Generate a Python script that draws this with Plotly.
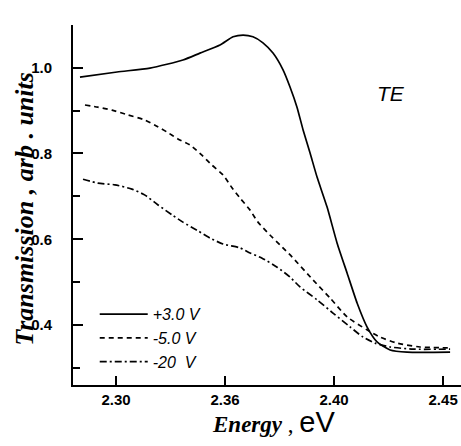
import plotly.graph_objects as go

energy_p3 = [2.2835, 2.3005, 2.3156, 2.3307, 2.3385, 2.3477, 2.3537, 2.3583, 2.3628, 2.3674,
             2.3720, 2.3766, 2.3798, 2.3830, 2.3858, 2.3890, 2.3922, 2.3968, 2.4014, 2.4060,
             2.4106, 2.4151, 2.4197, 2.4257, 2.4335, 2.4532]
trans_p3 = [0.978, 0.990, 0.999, 1.018, 1.034, 1.053, 1.072, 1.076, 1.072, 1.058,
            1.034, 0.995, 0.955, 0.908, 0.855, 0.801, 0.745, 0.675, 0.591, 0.521,
            0.451, 0.396, 0.361, 0.342, 0.337, 0.337]

energy_m5 = [2.2858, 2.2917, 2.2982, 2.3055, 2.3133, 2.3179, 2.3234, 2.3284, 2.3339, 2.3394,
             2.3440, 2.3491, 2.3532, 2.3569, 2.3615, 2.3651, 2.3706, 2.3752, 2.3807, 2.3904,
             2.3982, 2.4060, 2.4151, 2.4211, 2.4289, 2.4394, 2.4532]
trans_m5 = [0.913, 0.908, 0.901, 0.890, 0.878, 0.866, 0.850, 0.834, 0.820, 0.796,
            0.773, 0.750, 0.720, 0.696, 0.668, 0.640, 0.610, 0.587, 0.559, 0.505,
            0.463, 0.419, 0.389, 0.372, 0.358, 0.349, 0.347]

energy_m20 = [2.2849, 2.2917, 2.2995, 2.3073, 2.3133, 2.3193, 2.3257, 2.3307, 2.3372, 2.3431,
              2.3491, 2.3569, 2.3615, 2.3670, 2.3739, 2.3798, 2.3844, 2.3922, 2.3995, 2.4073,
              2.4133, 2.4188, 2.4257, 2.4362, 2.4532]
trans_m20 = [0.740, 0.731, 0.727, 0.717, 0.703, 0.680, 0.657, 0.640, 0.621, 0.603,
             0.589, 0.580, 0.568, 0.556, 0.535, 0.512, 0.489, 0.459, 0.428, 0.396,
             0.372, 0.358, 0.349, 0.344, 0.344]

series_names = ["+3.0 V", "-5.0 V", "-20  V"]
x_tickvals = [2.30, 2.35, 2.40, 2.45]
x_ticktext = ["2.30", "2.36", "2.40", "2.45"]
y_tickvals = [0.4, 0.6, 0.8, 1.0]
y_ticktext = ["0.4", "0.6", "0.8", "1.0"]
y_minor = [0.3, 0.5, 0.7, 0.9]

fig = go.Figure()
styles = ["solid", "5px,4px", "7px,3px,2px,3px"]
for xs, ys, name, dash in zip([energy_p3, energy_m5, energy_m20],
                              [trans_p3, trans_m5, trans_m20], series_names, styles):
    fig.add_trace(go.Scatter(x=xs, y=ys, mode="lines", name=name,
                             line=dict(color="black", width=1.7, dash=dash, shape="spline", smoothing=0.6)))

fig.add_annotation(x=2.4261, y=0.941, text="<i>TE</i>", showarrow=False,
                   font=dict(family="Liberation Sans, Arial", size=21, color="black"))

title_font = dict(family="Liberation Serif, Times New Roman", size=26, color="black")
fig.add_annotation(xref="paper", yref="paper", x=-0.126, y=0.49, textangle=-90,
                   text="<b><i>Transmission , arb . units</i></b>", showarrow=False,
                   font=title_font, xanchor="center", yanchor="middle")
fig.add_annotation(xref="paper", yref="paper", x=0.518, y=-0.103,
                   text="<b><i>Energy</i></b> , <span style='font-family:Liberation Sans, Arial;font-size:29px'>eV</span>",
                   showarrow=False, font=dict(family="Liberation Serif, Times New Roman", size=23, color="black"),
                   xanchor="center", yanchor="middle")

tick_font = dict(family="Liberation Sans, Arial", size=15, color="black", weight="bold")
fig.update_layout(
    width=461, height=446,
    margin=dict(l=73, r=0, t=25, b=61),
    paper_bgcolor="white", plot_bgcolor="white",
    showlegend=True,
    legend=dict(x=0.056, y=0.244, xanchor="left", yanchor="top",
                bgcolor="rgba(0,0,0,0)", tracegroupgap=0, itemwidth=48,
                font=dict(family="Liberation Sans, Arial", size=16, color="black", style="italic")),
    xaxis=dict(range=[2.2803, 2.4582], tickvals=x_tickvals, ticktext=x_ticktext,
               ticks="inside", ticklen=9, tickwidth=1.5, tickcolor="black",
               showline=True, linecolor="black", linewidth=2, showgrid=False, zeroline=False,
               tickfont=tick_font, ticklabelstandoff=0, automargin=False),
    yaxis=dict(range=[0.2604, 1.0995], tickvals=y_tickvals, ticktext=y_ticktext,
               ticks="inside", ticklen=10, tickwidth=1.5, tickcolor="black",
               minor=dict(tickvals=y_minor, ticks="inside", ticklen=7, tickwidth=1.5, tickcolor="black"),
               showline=True, linecolor="black", linewidth=2, showgrid=False, zeroline=False,
               tickfont=tick_font, ticklabelstandoff=16, automargin=False),
)

fig.write_html("out.html", config={"displayModeBar": False},
               post_script="document.body.style.margin='0px';document.body.style.overflow='hidden';")
